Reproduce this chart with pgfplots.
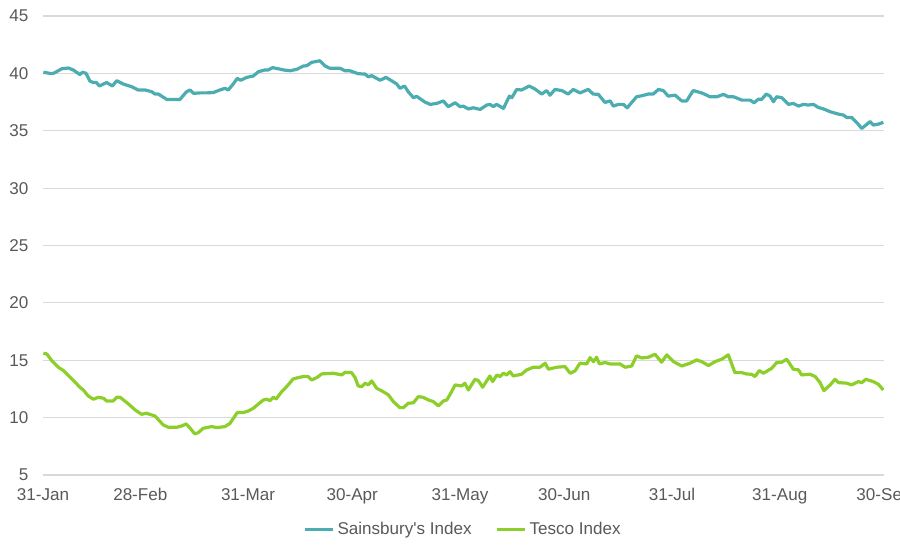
\documentclass[border=0pt]{standalone}
\usepackage{pgfplots}
\pgfplotsset{compat=1.18}
\usepackage{fontspec}
\setmainfont{Liberation Sans}
\usetikzlibrary{calc}
\definecolor{txtgray}{HTML}{595959}
\definecolor{gridgray}{HTML}{D9D9D9}
\definecolor{sains}{HTML}{4BACB1}
\definecolor{tesco}{HTML}{8DCF2A}
\begin{document}
\begin{tikzpicture}
\begin{axis}[
    name=ax,
    scale only axis,
    width=630.75pt, height=344.25pt,
    xmin=0, xmax=242, ymin=5, ymax=45,
    axis line style={draw=none},
    tick style={draw=none},
    ytick={5,10,...,45},
    xtick={0,28,59,89,120,150,181,212,242},
    xticklabels={31-Jan,28-Feb,31-Mar,30-Apr,31-May,30-Jun,31-Jul,31-Aug,30-Sep},
    ymajorgrids,
    grid style={gridgray, line width=0.9pt},
    tick label style={font=\fontsize{12.8}{15}\selectfont, text=txtgray},
    yticklabel style={xshift=-7.5pt},
    xticklabel style={yshift=-6pt, text height=9.5pt, text depth=2.5pt},
    /pgf/number format/assume math mode=true,
    legend style={at={(0.5,-0.118)}, anchor=center, draw=none, fill=none,
        font=\fontsize{12.8}{15}\selectfont, text=txtgray,
        legend columns=2,
        /tikz/every even column/.append style={column sep=16pt}},
    legend image code/.code={\draw[#1] (0pt,0pt) -- (21pt,0pt);},
]
\addplot[sains, line width=2.4pt, line join=round] coordinates {
(0.1,40.1) (2.0,40.0) (3.0,40.0) (5.4,40.4) (7.3,40.47) (8.7,40.3) (10.6,39.9)
(11.4,40.1) (12.4,40.0) (13.5,39.33) (14.5,39.2) (15.4,39.2) (16.2,38.9) (18.3,39.2)
(20.0,38.9) (21.2,39.36) (23.1,39.07) (25.5,38.84) (27.4,38.55) (29.4,38.55) (31.3,38.4)
(32.2,38.2) (33.2,38.2) (35.6,37.73) (38.0,37.73) (39.4,37.73) (41.3,38.4) (42.3,38.55)
(43.3,38.26) (45.2,38.3) (47.1,38.3) (49.0,38.33) (50.9,38.55) (52.4,38.7) (53.3,38.55)
(54.8,39.1) (55.9,39.56) (56.9,39.4) (58.6,39.65) (60.5,39.77) (62.0,40.15) (63.9,40.3)
(64.8,40.3) (66.1,40.5) (67.7,40.4) (69.2,40.3) (71.1,40.23) (73.0,40.35) (74.9,40.64)
(75.9,40.67) (77.3,40.96) (79.7,41.1) (81.2,40.64) (82.6,40.44) (85.5,40.44) (86.9,40.23)
(88.3,40.23) (90.7,39.97) (92.7,39.94) (93.6,39.7) (94.6,39.8) (97.0,39.4) (98.7,39.65)
(100.3,39.36) (101.8,39.07) (102.7,38.7) (104.0,38.9) (105.1,38.4) (106.6,37.88) (107.5,38.0)
(109.9,37.5) (111.4,37.3) (113.3,37.38) (115.2,37.6) (116.6,37.1) (118.6,37.44) (120.0,37.1)
(120.9,37.15) (122.4,36.9) (123.8,37.0) (125.8,36.86) (127.7,37.24) (128.6,37.3) (129.6,37.1)
(130.5,37.3) (132.5,36.95) (134.2,38.02) (134.9,37.88) (136.3,38.6) (137.7,38.55) (139.9,38.9)
(141.6,38.63) (143.5,38.2) (144.9,38.5) (145.9,38.1) (147.3,38.6) (149.3,38.5) (151.1,38.2)
(152.6,38.6) (154.5,38.3) (156.9,38.6) (158.3,38.2) (159.8,38.17) (161.7,37.47) (163.2,37.6)
(164.1,37.15) (165.6,37.3) (167.0,37.3) (168.1,37.0) (170.8,37.96) (172.3,38.05) (174.2,38.2)
(175.6,38.2) (177.1,38.6) (178.5,38.5) (179.9,38.02) (181.9,38.1) (183.8,37.6) (185.2,37.6)
(187.1,38.5) (189.5,38.3) (191.0,38.1) (191.9,37.96) (193.9,37.96) (195.8,38.17) (197.2,37.96)
(198.7,37.96) (201.1,37.67) (203.5,37.67) (204.6,37.44) (205.9,37.76) (206.8,37.73) (208.1,38.2)
(209.2,38.02) (210.2,37.53) (211.1,37.96) (212.6,37.88) (214.5,37.3) (215.9,37.38) (217.4,37.15)
(218.8,37.3) (220.2,37.24) (221.7,37.3) (223.1,37.03) (224.6,36.9) (226.5,36.66) (228.9,36.45)
(230.3,36.37) (231.3,36.16) (232.7,36.16) (234.2,35.7) (235.6,35.2) (238.0,35.8) (238.9,35.5)
(240.4,35.58) (241.8,35.73)
};
\addlegendentry{Sainsbury\textquotesingle s Index}
\addplot[tesco, line width=2.4pt, line join=round] coordinates {
(0.1,15.61) (1.1,15.55) (2.5,14.97) (4.4,14.39) (5.9,14.1) (7.8,13.52) (9.7,12.94)
(10.6,12.65) (11.6,12.41) (13.0,11.89) (14.5,11.6) (15.9,11.77) (17.4,11.69) (18.3,11.45)
(20.2,11.45) (21.2,11.77) (22.2,11.77) (24.6,11.19) (26.5,10.67) (28.4,10.29) (29.8,10.38)
(31.3,10.23) (32.2,10.15) (34.6,9.36) (36.1,9.16) (38.5,9.16) (39.9,9.27) (41.2,9.45)
(42.1,9.16) (43.7,8.58) (44.7,8.7) (46.1,9.07) (48.5,9.22) (50.0,9.13) (52.4,9.22)
(53.8,9.5) (55.9,10.44) (57.6,10.44) (59.1,10.58) (60.5,10.81) (62.0,11.19) (63.4,11.54)
(64.4,11.6) (65.3,11.48) (66.3,11.77) (67.1,11.63) (68.7,12.27) (70.1,12.7) (72.0,13.37)
(73.5,13.49) (74.9,13.58) (76.3,13.58) (77.3,13.28) (78.8,13.49) (80.2,13.81) (83.5,13.87)
(85.0,13.78) (86.0,13.72) (86.9,13.95) (88.8,13.92) (89.8,13.49) (90.7,12.76) (91.7,12.7)
(92.7,13.0) (93.6,12.85) (94.6,13.2) (96.0,12.56) (97.5,12.33) (99.4,11.98) (100.8,11.4)
(102.7,10.87) (103.7,10.87) (105.1,11.25) (106.6,11.3) (108.0,11.83) (109.4,11.77) (110.9,11.54)
(112.3,11.4) (113.8,11.02) (115.2,11.45) (116.2,11.54) (117.1,12.0) (118.6,12.85) (120.5,12.76)
(121.4,13.0) (122.4,12.41) (124.3,13.34) (125.3,13.22) (126.5,12.65) (128.6,13.63) (129.4,13.14)
(130.6,13.72) (131.5,13.58) (132.5,13.87) (133.4,13.72) (134.4,14.0) (135.3,13.63) (137.7,13.78)
(139.2,14.16) (141.1,14.39) (143.0,14.39) (144.5,14.74) (145.4,14.22) (147.8,14.39) (150.2,14.45)
(151.7,13.87) (153.1,14.07) (154.5,14.74) (156.5,14.68) (157.4,15.23) (158.4,14.88) (159.3,15.26)
(160.1,14.68) (161.7,14.8) (163.2,14.68) (166.0,14.68) (167.5,14.39) (169.4,14.5) (170.8,15.38)
(172.3,15.2) (174.2,15.26) (176.1,15.52) (178.0,14.83) (179.5,15.47) (181.4,14.88) (183.8,14.5)
(186.2,14.74) (188.1,15.03) (189.5,14.88) (191.5,14.54) (193.4,14.88) (195.3,15.09) (197.2,15.47)
(199.1,13.92) (201.1,13.92) (202.5,13.8) (203.9,13.78) (204.9,13.58) (206.1,14.1) (207.3,13.87)
(209.7,14.3) (211.1,14.8) (212.6,14.83) (214.0,15.09) (215.9,14.22) (217.4,14.16) (218.3,13.72)
(220.7,13.78) (222.2,13.58) (223.6,13.05) (224.7,12.35) (226.5,12.85) (227.9,13.34) (228.9,13.05)
(231.3,13.0) (232.7,12.85) (234.6,13.14) (235.6,13.05) (236.8,13.34) (238.9,13.14) (240.4,12.9)
(241.8,12.41)
};
\addlegendentry{Tesco Index}
\end{axis}
\pgfresetboundingbox
\path[use as bounding box] ($(ax.south west)+(-32.25pt,-63.75pt)$) rectangle ($(ax.north east)+(12pt,12pt)$);
\end{tikzpicture}
\end{document}
